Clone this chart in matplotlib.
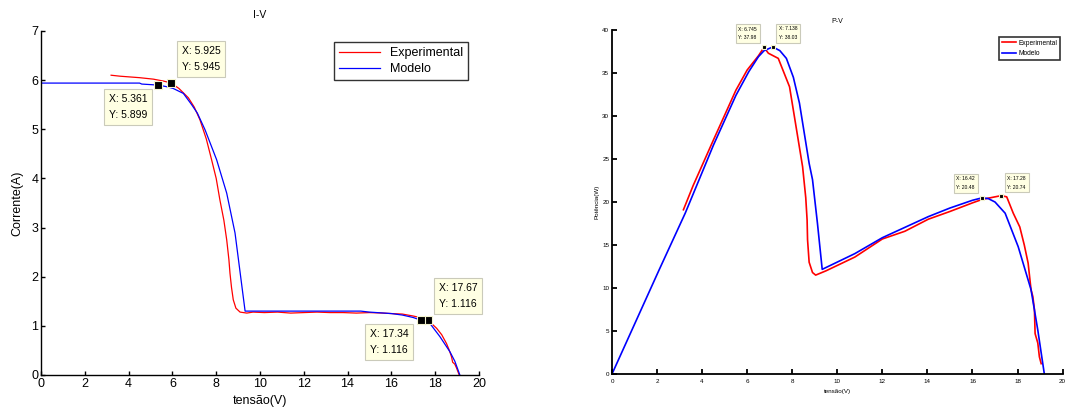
import matplotlib
matplotlib.use("Agg")
import matplotlib.pyplot as plt

plt.rcParams['font.family'] = ['Liberation Sans', 'DejaVu Sans']

# I-V curves (tensao V, corrente A)
v_iv_exp = [3.20, 3.61, 4.5, 5.13, 5.6, 5.925, 6.3, 6.73, 7.0, 7.26, 7.55, 7.79, 8.0, 8.17,
            8.35, 8.48, 8.58, 8.63, 8.70, 8.78, 8.90, 9.09, 9.4, 9.68, 10.2, 10.8, 11.4, 12.0,
            12.6, 13.2, 13.8, 14.4, 15.0, 15.6, 16.0, 16.5, 17.0, 17.3, 17.67, 18.07, 18.3,
            18.52, 18.64, 18.75, 18.8, 18.9, 18.98, 19.1]
i_iv_exp = [6.10, 6.08, 6.05, 6.02, 5.98, 5.945, 5.83, 5.64, 5.45, 5.19, 4.80, 4.38, 4.00, 3.56,
            3.15, 2.75, 2.35, 2.07, 1.78, 1.53, 1.36, 1.28, 1.26, 1.28, 1.27, 1.28, 1.26, 1.27,
            1.28, 1.27, 1.27, 1.26, 1.27, 1.26, 1.25, 1.24, 1.20, 1.17, 1.116, 0.95, 0.82,
            0.64, 0.51, 0.37, 0.26, 0.22, 0.14, 0.0]

v_iv_mod = [0, 4.5, 4.6, 5.361, 5.7, 6.04, 6.5, 6.88, 7.138, 7.49, 8.02, 8.48, 8.86, 9.32,
            10.0, 12.0, 14.6, 15.0, 16.0, 16.5, 17.0, 17.34, 17.76, 18.22, 18.68, 18.9, 19.13]
i_iv_mod = [5.94, 5.94, 5.92, 5.899, 5.87, 5.83, 5.73, 5.50, 5.33, 4.99, 4.38, 3.70, 2.89, 1.30,
            1.30, 1.30, 1.30, 1.28, 1.25, 1.22, 1.17, 1.116, 1.05, 0.78, 0.47, 0.28, 0.0]

# P-V curves (tensao V, potencia W)
v_pv_exp = [3.17, 3.6, 4.5, 5.5, 6.0, 6.5, 6.745, 6.94, 7.38, 7.88, 8.46, 8.6, 8.66, 8.68,
            8.75, 8.9, 9.04, 9.5, 10.78, 12.0, 13.0, 14.04, 15.0, 16.0, 16.43, 17.0, 17.28,
            17.52, 17.81, 18.1, 18.3, 18.47, 18.6, 18.68, 18.75, 18.78, 18.9, 18.97, 19.05]
p_pv_exp = [19.1, 21.9, 27.2, 33.0, 35.35, 37.0, 37.98, 37.3, 36.7, 33.4, 24.1, 20.5, 17.9, 15.6,
            13.0, 11.8, 11.5, 12.0, 13.6, 15.7, 16.6, 18.0, 18.9, 19.9, 20.3, 20.6, 20.74,
            20.6, 18.7, 17.1, 15.0, 12.9, 9.8, 9.0, 7.5, 4.7, 3.6, 2.0, 1.2]

v_pv_mod = [0, 2.09, 3.25, 4.5, 5.5, 6.07, 6.5, 6.75, 7.138, 7.45, 7.74, 8.05, 8.32, 8.75, 8.9,
            9.12, 9.33, 10.78, 12.0, 14.04, 15.0, 16.0, 16.42, 16.7, 17.0, 17.45, 18.03, 18.6,
            18.9, 19.19]
p_pv_mod = [0, 12.1, 18.7, 26.6, 32.4, 35.15, 36.9, 37.6, 38.03, 37.6, 36.7, 34.5, 31.5, 24.5, 22.6,
            17.5, 12.17, 14.0, 15.85, 18.3, 19.3, 20.2, 20.48, 20.4, 20.0, 18.7, 14.8, 9.8,
            5.1, 0.0]

# data tips: (x, y, text offset in pixels)
tips_iv = [(5.925, 5.945, (11, 11)), (5.361, 5.899, (-11, -9)),
           (17.67, 1.116, (11, 11)), (17.34, 1.116, (-12, -9))]
tips_pv = [(6.745, 37.98, (-7, 7)), (7.138, 38.03, (6, 7)),
           (16.42, 20.48, (-7, 8)), (17.28, 20.74, (6, 6))]


def datatip(ax, x, y, off, fs, ms, pad, ls):
    ax.plot(x, y, 's', color='k', ms=ms, mec='#F4F4D0', mew=0.8, zorder=5)
    ha = 'left' if off[0] > 0 else 'right'
    va = 'bottom' if off[1] > 0 else 'top'
    ax.annotate(f'X: {x:g}\nY: {y:g}', (x, y), xytext=off, textcoords='offset pixels',
                ha=ha, va=va, multialignment='left', fontsize=fs, linespacing=ls, zorder=6,
                bbox=dict(boxstyle=f'square,pad={pad}', fc='#FFFFE3', ec='#CACABA', lw=0.8))


def style(ax, lw, tick_fs, tick_len, pad):
    for s in ['top', 'right']:
        ax.spines[s].set_visible(False)
    for s in ['left', 'bottom']:
        ax.spines[s].set_linewidth(lw)
    ax.tick_params(direction='in', labelsize=tick_fs, length=tick_len, width=lw, pad=pad)


fig = plt.figure(figsize=(10.69, 4.11), dpi=100)

# I-V
ax1 = fig.add_axes([0.0384, 0.0876, 0.4096, 0.837])
ax1.plot(v_iv_exp, i_iv_exp, color='#FF0000', lw=0.9, label='Experimental')
ax1.plot(v_iv_mod, i_iv_mod, color='#0000FF', lw=0.9, label='Modelo')
ax1.set_xlim(0, 20)
ax1.set_ylim(0, 7)
ax1.set_xticks(range(0, 21, 2))
ax1.set_yticks(range(0, 8))
style(ax1, 1.0, 9, 3, 2)
ax1.set_title('I-V', fontsize=7.5, pad=9)
ax1.set_xlabel('tensão(V)', fontsize=9, labelpad=4)
ax1.set_ylabel('Corrente(A)', fontsize=9, labelpad=6)
leg = ax1.legend(loc='upper right', bbox_to_anchor=(0.99, 0.985), fontsize=9, fancybox=False,
                 edgecolor='k', handlelength=3.3, borderpad=0.4, labelspacing=0.3)
leg.get_frame().set_linewidth(1.0)
for x, y, off in tips_iv:
    datatip(ax1, x, y, off, 7.5, 5.5, 0.45, 1.75)

# P-V
ax2 = fig.add_axes([0.5725, 0.090, 0.4215, 0.837])
ax2.plot(v_pv_exp, p_pv_exp, color='#FF0000', lw=1.2, label='Experimental')
ax2.plot(v_pv_mod, p_pv_mod, color='#0000FF', lw=1.2, label='Modelo')
ax2.set_xlim(0, 20)
ax2.set_ylim(0, 40)
ax2.set_xticks(range(0, 21, 2))
ax2.set_yticks(range(0, 41, 5))
style(ax2, 1.3, 4.5, 3.5, 3.5)
ax2.tick_params(axis='y', pad=2)
ax2.set_title('P-V', fontsize=5, pad=5)
ax2.set_xlabel('tensão(V)', fontsize=4.5, labelpad=3.5)
ax2.set_ylabel('Potência(W)', fontsize=4.5, labelpad=2)
leg2 = ax2.legend(loc='upper right', bbox_to_anchor=(1.002, 0.99), fontsize=4.8, fancybox=False,
                  edgecolor='k', handlelength=2.2, borderpad=0.45, labelspacing=0.5,
                  handletextpad=0.3)
leg2.get_frame().set_linewidth(1.2)
for x, y, off in tips_pv:
    datatip(ax2, x, y, off, 3.6, 3, 0.55, 1.9)

fig.savefig('out.png', dpi=100)
